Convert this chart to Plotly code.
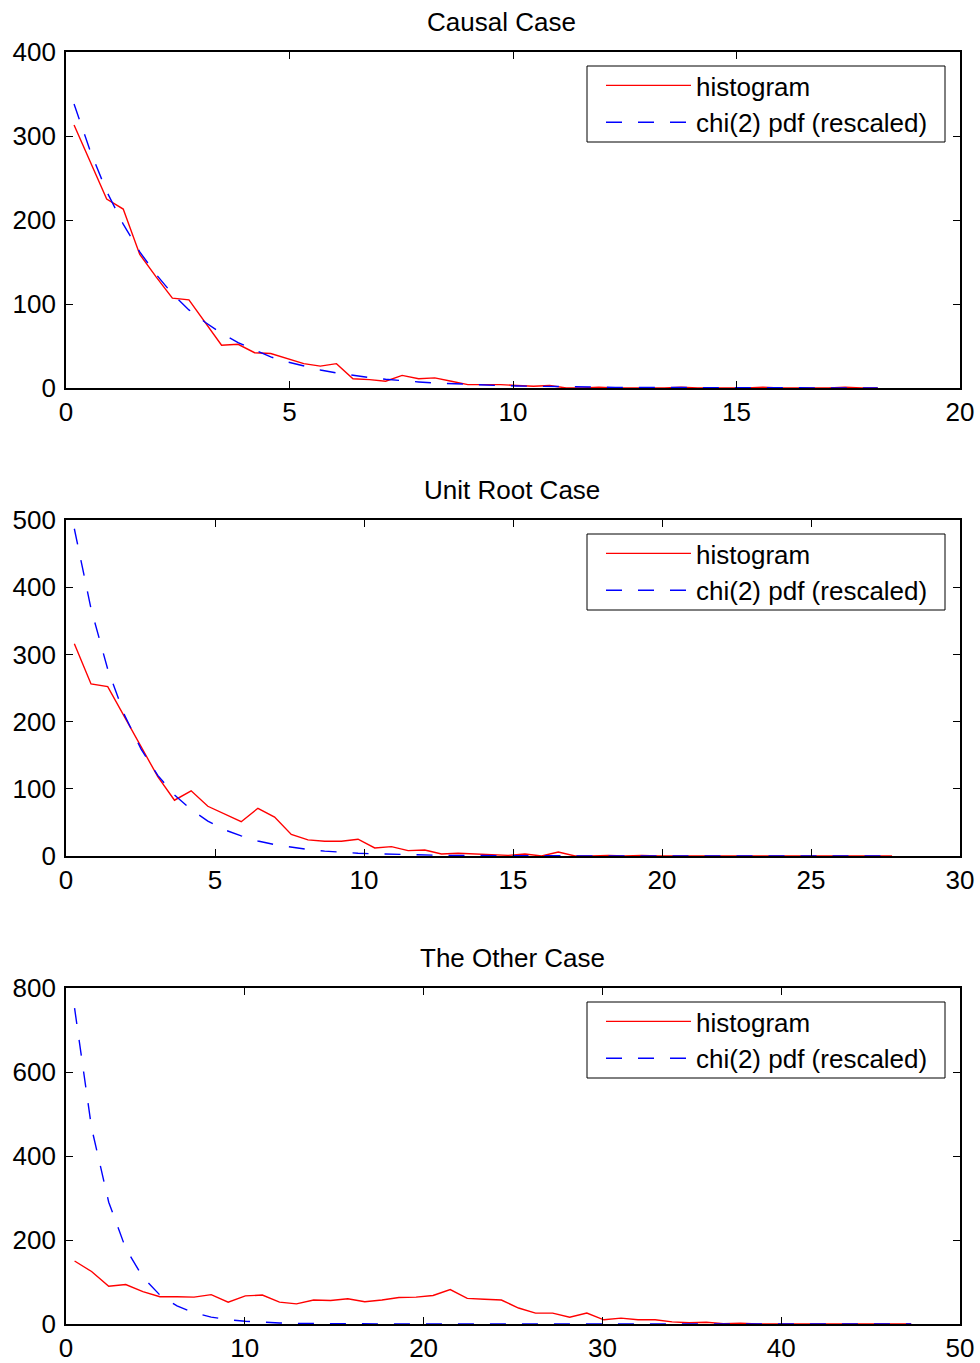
import plotly.graph_objects as go

# ---------------- data ----------------
causal_x = [0.18, 0.55, 0.91, 1.28, 1.65, 2.02, 2.38, 2.75, 3.12, 3.48,
            3.85, 4.22, 4.58, 4.95, 5.32, 5.69, 6.05, 6.42, 6.79, 7.15,
            7.52, 7.89, 8.25, 8.62, 8.99, 9.36, 9.72, 10.09, 10.46, 10.82,
            11.19, 11.56, 11.92, 12.29, 12.66, 13.03, 13.39, 13.76, 14.13, 14.49,
            14.86, 15.23, 15.59, 15.96, 16.33, 16.70, 17.06, 17.43, 17.80, 18.16]
causal_hist = [313, 268, 225, 213, 159, 132, 107, 105, 78, 51,
               52, 42, 41, 35, 29, 26, 29, 11, 10, 8,
               15, 11, 12, 8, 4, 4, 4, 3, 2, 3,
               0, 0, 1, 0, 0, 0, 0, 1, 0, 0,
               0, 0, 1, 0, 0, 0, 0, 1, 0, 0]
causal_pdf = [338, 281, 234, 195, 162, 135, 112, 93, 78, 65,
              54, 45, 37, 31, 26, 21.5, 18, 15, 12.4, 10.4,
              8.6, 7.2, 6.0, 5.0, 4.1, 3.4, 2.9, 2.4, 2.0, 1.6,
              1.4, 1.1, 0.95, 0.8, 0.66, 0.55, 0.46, 0.38, 0.32, 0.26,
              0.22, 0.18, 0.15, 0.13, 0.10, 0.09, 0.07, 0.06, 0.05, 0.04]

unit_x = [0.28, 0.84, 1.40, 1.96, 2.52, 3.08, 3.64, 4.20, 4.76, 5.32,
          5.88, 6.44, 7.00, 7.56, 8.12, 8.68, 9.24, 9.80, 10.36, 10.92,
          11.48, 12.04, 12.60, 13.16, 13.72, 14.28, 14.84, 15.40, 15.96, 16.52,
          17.08, 17.64, 18.20, 18.76, 19.32, 19.88, 20.44, 21.00, 21.56, 22.12,
          22.68, 23.24, 23.80, 24.36, 24.92, 25.48, 26.04, 26.60, 27.16, 27.72]
unit_hist = [316, 256, 252, 207, 162, 118, 83, 97, 74, 62,
             51, 71, 58, 32, 24, 22, 22, 25, 12, 14,
             8, 9, 3, 4, 3, 2, 1, 3, 0, 6,
             0, 0, 1, 0, 1, 0, 0, 0, 0, 0,
             0, 0, 0, 0, 0, 0, 0, 0, 0, 0]
unit_pdf = [487, 368, 278, 210, 159, 120, 91, 69, 52, 39,
            30, 22.4, 16.9, 12.8, 9.7, 7.3, 5.5, 4.2, 3.2, 2.4,
            1.8, 1.36, 1.03, 0.78, 0.59, 0.44, 0.34, 0.25, 0.19, 0.14,
            0.11, 0.08, 0.06, 0.05, 0.04, 0.03, 0.02, 0.02, 0.01, 0.01,
            0.01, 0, 0, 0, 0, 0, 0, 0, 0, 0]

other_x = [0.48, 1.43, 2.39, 3.34, 4.30, 5.25, 6.21, 7.16, 8.12, 9.07,
           10.03, 10.98, 11.94, 12.89, 13.85, 14.80, 15.76, 16.71, 17.67, 18.62,
           19.58, 20.53, 21.49, 22.44, 23.40, 24.35, 25.31, 26.26, 27.22, 28.17,
           29.13, 30.08, 31.04, 31.99, 32.95, 33.90, 34.86, 35.81, 36.77, 37.72,
           38.68, 39.63, 40.59, 41.54, 42.50, 43.45, 44.41, 45.36, 46.32, 47.27]
other_hist = [150, 125, 90, 94, 77, 65, 65, 64, 70, 52,
              67, 69, 52, 48, 57, 56, 60, 53, 57, 63,
              64, 68, 82, 61, 59, 57, 38, 26, 26, 16,
              26, 10, 14, 10, 10, 5, 3, 4, 1, 2,
              0, 0, 0, 1, 0, 0, 0, 0, 0, 0]
other_pdf = [752, 467, 290, 180, 111.5, 69, 43, 26.6, 16.5, 10.3,
             6.4, 3.95, 2.45, 1.52, 0.94, 0.58, 0.36, 0.22, 0.14, 0.09,
             0.05, 0.03, 0.02, 0.01, 0.01, 0, 0, 0, 0, 0,
             0, 0, 0, 0, 0, 0, 0, 0, 0, 0,
             0, 0, 0, 0, 0, 0, 0, 0, 0, 0]

titles = ["Causal Case", "Unit Root Case", "The Other Case"]
x_ranges = [[0, 20], [0, 30], [0, 50]]
x_dticks = [5, 5, 10]
y_ranges = [[0, 400], [0, 500], [0, 800]]
y_dticks = [100, 100, 200]
hist_name = "histogram"
pdf_name = "chi(2) pdf (rescaled)"

# ---------------- layout geometry (pixels) ----------------
W, H = 980, 1363
FONT = "Liberation Sans, Arial, Helvetica, sans-serif"
FS = 26
ax_left, ax_right = 66, 960
panel_tops = [52, 520, 988]
panel_bottoms = [388, 856, 1324]
title_pos = [(501, 22), (512, 490), (512, 958)]
legend_box = (587, 945, 14, 90)   # x0, x1, offsets from panel top (top, bottom)

panels = [
    (causal_x, causal_hist, causal_pdf),
    (unit_x, unit_hist, unit_pdf),
    (other_x, other_hist, other_pdf),
]

fig = go.Figure()
layout = dict(
    width=W, height=H,
    margin=dict(l=0, r=0, t=0, b=0, pad=0),
    paper_bgcolor="white", plot_bgcolor="white",
    font=dict(family=FONT, size=FS, color="black"),
    annotations=[], shapes=[],
)

for k, (xs, hs, ps) in enumerate(panels):
    idx = "" if k == 0 else str(k + 1)
    xa, ya = "x" + idx, "y" + idx
    leg = "legend" + idx
    fig.add_trace(go.Scatter(x=xs, y=hs, mode="lines", name=hist_name,
                             line=dict(color="#ff0000", width=1.4),
                             xaxis=xa, yaxis=ya, legend=leg))
    fig.add_trace(go.Scatter(x=xs, y=ps, mode="lines", name=pdf_name,
                             line=dict(color="#0000ff", width=1.4, dash="16px,16px"),
                             xaxis=xa, yaxis=ya, legend=leg))
    y0 = 1 - panel_bottoms[k] / H
    y1 = 1 - panel_tops[k] / H
    common = dict(showline=True, linecolor="black", linewidth=1.6, mirror="ticks",
                  ticks="inside", ticklen=7, tickwidth=1, tickcolor="black",
                  showgrid=False, zeroline=False, automargin=False,
                  tickfont=dict(family=FONT, size=FS, color="black"))
    layout["xaxis" + idx] = dict(domain=[ax_left / W, ax_right / W],
                                 range=x_ranges[k], dtick=x_dticks[k], tick0=0,
                                 anchor=ya, ticklabelstandoff=0, **common)
    layout["yaxis" + idx] = dict(domain=[y0, y1],
                                 range=y_ranges[k], dtick=y_dticks[k], tick0=0,
                                 anchor=xa, ticklabelstandoff=3, **common)
    # legend frame
    bx0, bx1, bt, bb = legend_box
    layout["shapes"].append(dict(type="rect", xref="paper", yref="paper",
                                 x0=bx0 / W, x1=bx1 / W,
                                 y0=1 - (panel_tops[k] + bb) / H,
                                 y1=1 - (panel_tops[k] + bt) / H,
                                 line=dict(color="black", width=1),
                                 fillcolor="white", layer="below"))
    layout[leg] = dict(x=601 / W, y=1 - (panel_tops[k] + 10) / H,
                       xanchor="left", yanchor="top",
                       bgcolor="rgba(0,0,0,0)", borderwidth=0,
                       font=dict(family=FONT, size=FS, color="black"),
                       itemwidth=85, tracegroupgap=0)
    tx, ty = title_pos[k]
    layout["annotations"].append(dict(text=titles[k], x=tx / W, y=1 - ty / H,
                                      xref="paper", yref="paper",
                                      xanchor="center", yanchor="middle",
                                      showarrow=False,
                                      font=dict(family=FONT, size=FS, color="black")))

fig.update_layout(**layout)
fig.write_html("out.html",
               config={"displayModeBar": False},
               post_script="document.body.style.margin='0';document.body.style.padding='0';")
